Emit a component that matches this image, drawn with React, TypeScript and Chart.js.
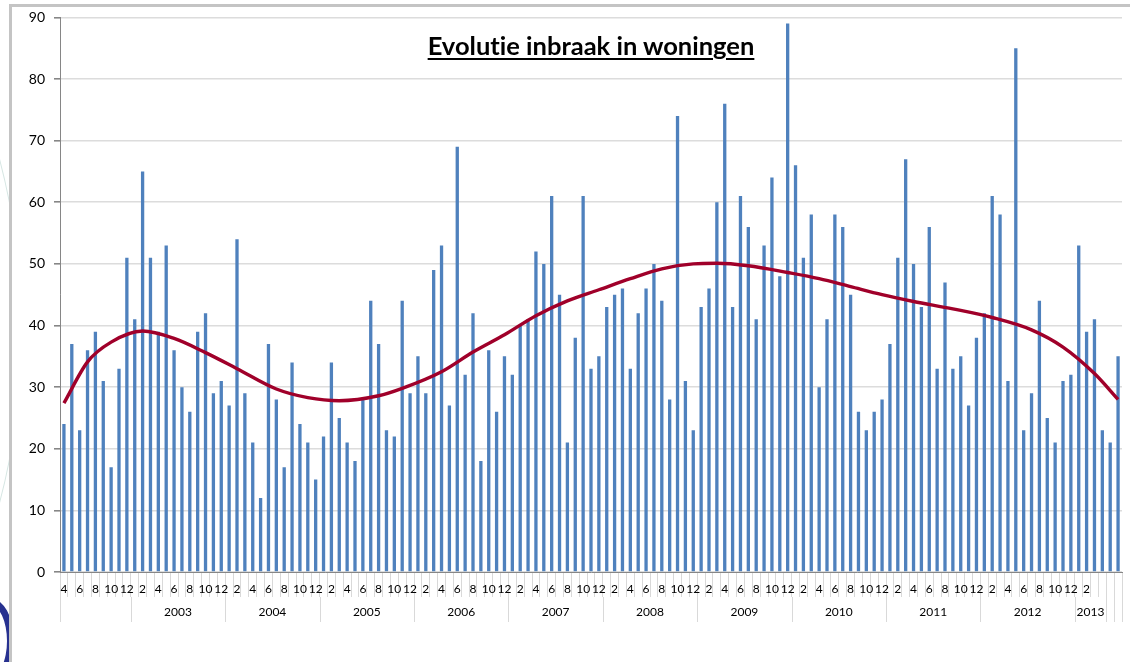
import React, { useEffect, useRef } from 'react';
import { Chart, registerables } from 'chart.js';

Chart.register(...registerables);

// ---- data ----
const FIRST_YEAR = 2002;
const FIRST_MONTH = 4;
const LAST_LABELED_INDEX = 130; // Feb 2013 is the last month with a tick label

const BURGLARIES: number[] = [
  // 2002 (Apr-Dec)
  24, 37, 23, 36, 39, 31, 17, 33, 51,
  // 2003
  41, 65, 51, 39, 53, 36, 30, 26, 39, 42, 29, 31,
  // 2004
  27, 54, 29, 21, 12, 37, 28, 17, 34, 24, 21, 15,
  // 2005
  22, 34, 25, 21, 18, 28, 44, 37, 23, 22, 44, 29,
  // 2006
  35, 29, 49, 53, 27, 69, 32, 42, 18, 36, 26, 35,
  // 2007
  32, 40, 41, 52, 50, 61, 45, 21, 38, 61, 33, 35,
  // 2008
  43, 45, 46, 33, 42, 46, 50, 44, 28, 74, 31, 23,
  // 2009
  43, 46, 60, 76, 43, 61, 56, 41, 53, 64, 48, 89,
  // 2010
  66, 51, 58, 30, 41, 58, 56, 45, 26, 23, 26, 28,
  // 2011
  37, 51, 67, 50, 43, 56, 33, 47, 33, 35, 27, 38,
  // 2012
  42, 61, 58, 31, 85, 23, 29, 44, 25, 21, 31, 32,
  // 2013 (Jan-Jun)
  53, 39, 41, 23, 21, 35,
];

// trend line at a few months (index into BURGLARIES)
const TREND_INDEX: number[] = [0, 3, 6, 10, 14, 18, 22, 27, 31, 35, 40, 43, 48, 52, 56, 60, 64, 68, 72, 76, 80, 83, 87, 92, 96, 100, 104, 108, 113, 118, 123, 127, 131, 134];
const TREND_VALUE: number[] = [27.4, 34.1, 37.3, 39.1, 37.9, 35.6, 33.0, 29.7, 28.3, 27.8, 28.6, 29.8, 32.5, 35.7, 38.5, 41.6, 44.0, 45.8, 47.6, 49.2, 50.0, 50.1, 49.7, 48.6, 47.6, 46.3, 45.0, 43.9, 42.7, 41.3, 39.3, 36.5, 32.2, 28.0];

const YEAR_LABELS: string[] = ['', '2003', '2004', '2005', '2006', '2007', '2008', '2009', '2010', '2011', '2012', '2013', '', ''];
const YEAR_SIZES: number[] = [9, 12, 12, 12, 12, 12, 12, 12, 12, 12, 12, 4, 1, 1];

const Y_MIN = 0;
const Y_MAX = 90;
const Y_STEP = 10;

const TITLE = 'Evolutie inbraak in woningen';

// ---- derived tables ----
const MONTH_OF: number[] = BURGLARIES.map((_, i) => ((FIRST_MONTH - 1 + i) % 12) + 1);
const CATEGORIES: string[] = BURGLARIES.map((_, i) => {
  const y = FIRST_YEAR + Math.floor((FIRST_MONTH - 1 + i) / 12);
  return `${y}-${MONTH_OF[i]}`;
});
const MONTH_TICKS: string[] = MONTH_OF.map((m, i) => (i <= LAST_LABELED_INDEX && m % 2 === 0 ? String(m) : ''));
const TREND_DATA: (number | null)[] = BURGLARIES.map(() => null);
TREND_INDEX.forEach((idx, k) => {
  TREND_DATA[idx] = TREND_VALUE[k];
});

const FONT = 'Lato, "Open Sans", sans-serif';

const yearRowPlugin = {
  id: 'yearRow',
  afterDraw(chart: any) {
    const x = chart.scales.x;
    const bottom = chart.chartArea.bottom;
    const ctx = chart.ctx;
    const step = x.getPixelForValue(1) - x.getPixelForValue(0);
    ctx.save();
    ctx.strokeStyle = '#d9d9d9';
    ctx.lineWidth = 1;
    ctx.fillStyle = '#000';
    ctx.font = `12px ${FONT}`;
    ctx.textAlign = 'center';
    ctx.textBaseline = 'middle';
    let start = 0;
    let lastRight = 0;
    YEAR_SIZES.forEach((size, g) => {
      const left = x.getPixelForValue(start) - step / 2;
      const right = x.getPixelForValue(start + size - 1) + step / 2;
      const lx = Math.round(left) + 0.5;
      ctx.beginPath();
      ctx.moveTo(lx, bottom + 25);
      ctx.lineTo(lx, bottom + 50);
      ctx.stroke();
      if (YEAR_LABELS[g]) ctx.fillText(YEAR_LABELS[g], (left + right) / 2, bottom + 40);
      lastRight = right;
      start += size;
    });
    const rx = Math.round(lastRight) + 0.5;
    ctx.beginPath();
    ctx.moveTo(rx, bottom + 25);
    ctx.lineTo(rx, bottom + 50);
    ctx.stroke();
    ctx.restore();
  },
};

function BurglaryChart() {
  const ref = useRef<HTMLCanvasElement | null>(null);
  useEffect(() => {
    if (!ref.current) return;
    const chart = new Chart(ref.current, {
      type: 'bar',
      data: {
        labels: CATEGORIES,
        datasets: [
          {
            type: 'line',
            label: 'Trend',
            data: TREND_DATA,
            borderColor: '#a0002a',
            borderWidth: 3.4,
            pointRadius: 0,
            spanGaps: true,
            cubicInterpolationMode: 'monotone',
            fill: false,
            order: 1,
          } as any,
          {
            type: 'bar',
            label: 'Inbraak in woningen',
            data: BURGLARIES,
            backgroundColor: '#4f81bd',
            borderWidth: 0,
            barPercentage: 0.42,
            categoryPercentage: 1.0,
            order: 2,
          },
        ],
      },
      options: {
        animation: false,
        responsive: false,
        devicePixelRatio: 1,
        layout: { padding: { left: 0, top: 17, right: 8, bottom: 40 } },
        plugins: {
          legend: { display: false },
          tooltip: { enabled: false },
          title: { display: false },
        },
        scales: {
          x: {
            type: 'category',
            offset: true,
            grid: {
              offset: true,
              drawOnChartArea: false,
              tickLength: 25,
              color: '#d9d9d9',
              lineWidth: 1,
            },
            border: { color: '#868686', width: 1 },
            ticks: {
              autoSkip: false,
              maxRotation: 0,
              minRotation: 0,
              padding: -15,
              color: '#000',
              font: { size: 12, family: FONT },
              callback: (_v: any, i: number) => MONTH_TICKS[i],
            },
            afterFit: (s: any) => {
              s.height = 50;
            },
          },
          y: {
            min: Y_MIN,
            max: Y_MAX,
            ticks: {
              stepSize: Y_STEP,
              color: '#000',
              padding: 9,
              font: { size: 14, family: FONT },
            },
            grid: {
              color: '#dcdcdc',
              lineWidth: 1.6,
              tickLength: 6,
              tickColor: '#868686',
            },
            border: { color: '#868686', width: 1 },
            afterFit: (s: any) => {
              s.width = 60;
            },
          },
        },
      } as any,
      plugins: [yearRowPlugin],
    });
    return () => chart.destroy();
  }, []);
  return <canvas ref={ref} width={1130} height={662} style={{ position: 'absolute', left: 0, top: 0 }} />;
}

export default function App() {
  return (
    <div
      style={{
        position: 'fixed',
        left: 0,
        top: 0,
        width: 1130,
        height: 662,
        background: '#fff',
        overflow: 'hidden',
        fontFamily: FONT,
      }}
    >
      {/* slide decoration on the left */}
      <div
        style={{
          position: 'absolute',
          left: -560,
          top: -120,
          width: 580,
          height: 900,
          borderRadius: '50%',
          border: '1px solid #d6e6e3',
        }}
      />
      <div
        style={{
          position: 'absolute',
          left: -34,
          top: 598,
          width: 34,
          height: 72,
          borderRadius: '50%',
          border: '7px solid #27318f',
        }}
      />
      {/* frame */}
      <div
        style={{
          position: 'absolute',
          left: 9,
          top: 4,
          width: 1140,
          height: 700,
          borderTop: '3px solid #c4c4c4',
          borderLeft: '3px solid #c4c4c4',
          background: '#fff',
        }}
      />
      <BurglaryChart />
      <div
        style={{
          position: 'absolute',
          left: 591,
          top: 33,
          transform: 'translateX(-50%)',
          fontSize: 25.5,
          lineHeight: 1,
          fontWeight: 700,
          color: '#000',
          whiteSpace: 'nowrap',
          fontVariantLigatures: 'none',
          fontFeatureSettings: '"liga" 0, "clig" 0',
          textDecoration: 'underline',
          textDecorationThickness: '2px',
          textUnderlineOffset: '3px',
        }}
      >
        {TITLE}
      </div>
    </div>
  );
}
